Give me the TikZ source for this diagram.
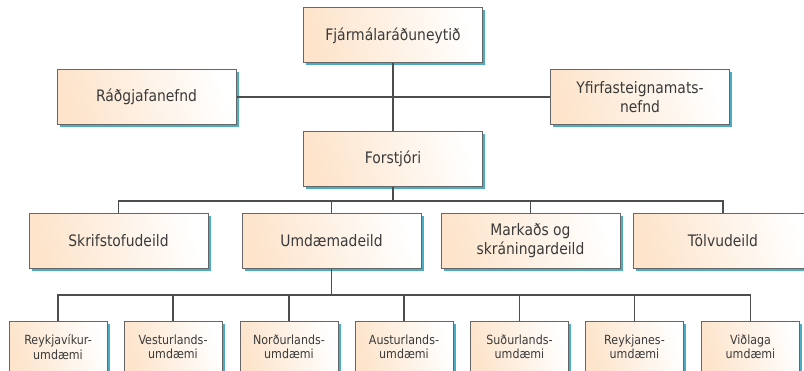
\documentclass[tikz,border=0pt]{standalone}
\usepackage{fontspec}
\setmainfont{DejaVu Sans}[FakeStretch=0.88]
\usetikzlibrary{shadows}
\definecolor{peach}{HTML}{FDE4CB}
\definecolor{sblue}{HTML}{4BACC6}
\definecolor{bordergray}{HTML}{666666}
\definecolor{linegray}{HTML}{4D4D4D}
\definecolor{txtgray}{HTML}{3A3A3A}
\tikzset{
  orgbox/.style={draw=bordergray, line width=1pt, left color=peach, right color=white,
    shading angle=105, text=txtgray, align=center, inner sep=0pt,
    drop shadow={fill=sblue, shadow xshift=2.5pt, shadow yshift=-2.5pt, opacity=1}},
  bigbox/.style={orgbox, minimum width=179pt, minimum height=55pt,
    font=\fontsize{15.8}{18.8}\selectfont},
  smallbox/.style={orgbox, minimum width=98pt, minimum height=50pt,
    font=\fontsize{12.6}{14.4}\selectfont},
  conn/.style={draw=linegray, line width=1.2pt}
}
\begin{document}
\begin{tikzpicture}[x=1pt,y=-1pt]
\useasboundingbox (0,0) rectangle (804,371);
\clip (0,0) rectangle (804,371);
\fill[white] (0,0) rectangle (804,371);
% level 0/1
\node[bigbox] (fin) at (393,35.5) {Fjármálaráðuneytið};
\node[bigbox] (rad) at (146.5,97) {Ráðgjafanefnd};
\node[bigbox] (yfir) at (640,97) {Yfirfasteignamats-\\nefnd};
\node[bigbox] (for) at (393,159) {Forstjóri};
% level 2
\node[bigbox] (skr) at (118.5,241) {Skrifstofudeild};
\node[bigbox] (umd) at (331.5,241) {Umdæmadeild};
\node[bigbox] (mar) at (530.5,241) {Markaðs og\\skráningardeild};
\node[bigbox] (tol) at (723,241) {Tölvudeild};
% level 3
\node[smallbox] (rvk) at (58,347) {Reykjavíkur-\\umdæmi};
\node[smallbox] (ves) at (173,347) {Vesturlands-\\umdæmi};
\node[smallbox] (nor) at (289,347) {Norðurlands-\\umdæmi};
\node[smallbox] (aus) at (404,347) {Austurlands-\\umdæmi};
\node[smallbox] (sud) at (519.5,347) {Suðurlands-\\umdæmi};
\node[smallbox] (rey) at (634.5,347) {Reykjanes-\\umdæmi};
\node[smallbox] (vid) at (750.5,347) {Viðlaga\\umdæmi};
% connectors
\draw[conn] (fin.south) -- (for.north);
\draw[conn] (rad.east) -- (yfir.west);
\foreach \c in {skr,umd,mar,tol}
  \draw[conn] (for.south) -- ++(0,14) -| (\c.north);
\foreach \c in {rvk,ves,nor,aus,sud,rey,vid}
  \draw[conn] (umd.south) -- ++(0,26) -| (\c.north);
\end{tikzpicture}
\end{document}
